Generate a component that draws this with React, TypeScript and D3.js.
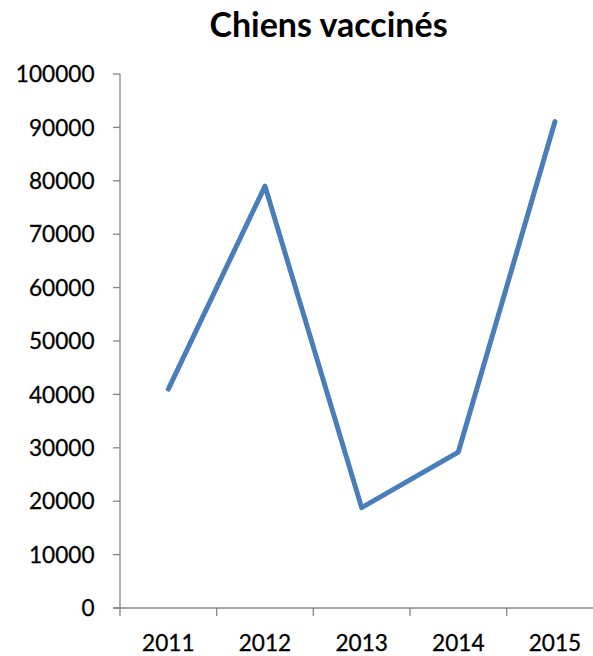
import React from "react";
import * as d3 from "d3";

// Vaccinated dogs per year
const years: string[] = ["2011", "2012", "2013", "2014", "2015"];
const vaccinated: number[] = [41000, 79000, 18800, 29200, 91100];
const yTicks: number[] = [0, 10000, 20000, 30000, 40000, 50000, 60000, 70000, 80000, 90000, 100000];
const title = "Chiens vaccinés";

const W = 593;
const H = 656;
const left = 120;
const right = 603.3;
const top = 74;
const bottom = 608;

const FONT = "Lato, 'Open Sans', sans-serif";
const AXIS = "#868686";
const LINE = "#4A7EBB";

export default function App() {
  const x = d3.scaleBand<string>().domain(years).range([left, right]).padding(0);
  const y = d3.scaleLinear().domain([0, 100000]).range([bottom, top]);
  const cx = (d: string) => (x(d) ?? 0) + x.bandwidth() / 2;

  const line = d3
    .line<number>()
    .x((_, i) => cx(years[i]))
    .y((v) => y(v));

  const boundaries = [...years.map((d) => x(d) ?? 0), right];

  return (
    <svg
      width={W}
      height={H}
      style={{ position: "absolute", left: 0, top: 0, background: "#fff" }}
      fontFamily={FONT}
    >
      <rect x={0} y={0} width={W} height={H} fill="#fff" />
      <text x={328.5} y={37.3} textAnchor="middle" fontSize={34} fontWeight={700} fill="#000">
        {title}
      </text>

      {/* y axis */}
      <line x1={left} x2={left} y1={top} y2={bottom} stroke={AXIS} strokeWidth={1.3} />
      {yTicks.map((t) => (
        <g key={t}>
          <line x1={left - 7} x2={left} y1={y(t)} y2={y(t)} stroke={AXIS} strokeWidth={1.3} />
          <text x={94.5} y={y(t) + 8.2} textAnchor="end" fontSize={22.6} fill="#000" stroke="#000" strokeWidth={0.3}>
            {t}
          </text>
        </g>
      ))}

      {/* x axis */}
      <line x1={left - 7} x2={right} y1={bottom} y2={bottom} stroke={AXIS} strokeWidth={1.3} />
      {boundaries.map((b, i) => (
        <line key={i} x1={b} x2={b} y1={bottom} y2={bottom + 8} stroke={AXIS} strokeWidth={1.3} />
      ))}
      {years.map((d) => (
        <text key={d} x={cx(d)} y={651} textAnchor="middle" fontSize={22.6} fill="#000" stroke="#000" strokeWidth={0.3}>
          {d}
        </text>
      ))}

      <path
        d={line(vaccinated) ?? ""}
        fill="none"
        stroke={LINE}
        strokeWidth={5}
        strokeLinejoin="round"
        strokeLinecap="round"
      />
    </svg>
  );
}
